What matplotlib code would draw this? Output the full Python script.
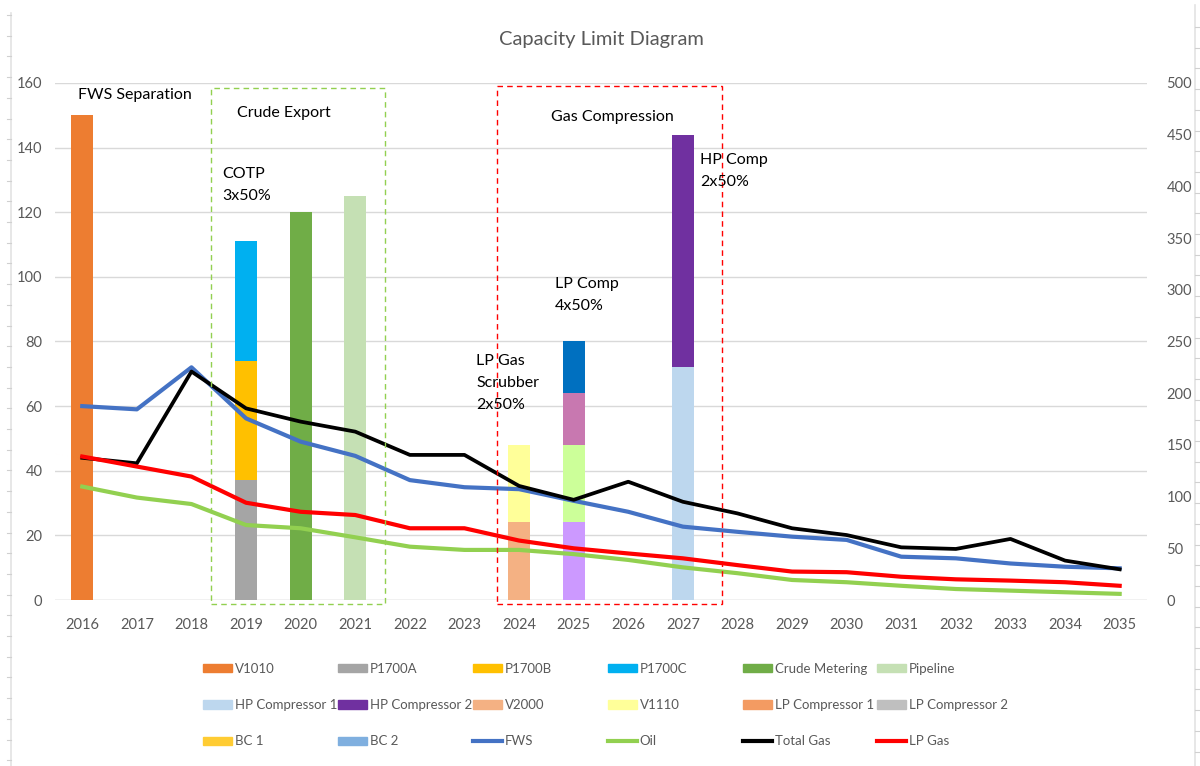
import matplotlib
matplotlib.use("Agg")
import matplotlib.pyplot as plt
from matplotlib.patches import Patch, Rectangle
from matplotlib.lines import Line2D
import numpy as np

plt.rcParams['font.family'] = ['Lato', 'DejaVu Sans']

years = [str(y) for y in range(2016, 2036)]

# bar series, value per year
v1010 = {"2016": 150}
p1700a = {"2019": 37}
p1700b = {"2019": 37}
p1700c = {"2019": 37}
crude_metering = {"2020": 120}
pipeline = {"2021": 125}
v2000 = {"2024": 24}
v1110 = {"2024": 24}
lp_comp1 = {"2025": 24}
lp_comp2 = {"2025": 24}
bc1 = {"2025": 16}
bc2 = {"2025": 16}
hp_comp1 = {"2027": 72}
hp_comp2 = {"2027": 72}

# line series
fws = [60, 59, 72, 56.2, 49, 44.6, 37.1, 34.9, 34.3, 30.7, 27.3, 22.7, 21.1, 19.6,
       18.6, 13.4, 12.9, 11.3, 10.3, 9.8]
oil = [35.1, 31.7, 29.7, 23.2, 22.2, 19.4, 16.5, 15.5, 15.5, 14.2, 12.4, 10.1, 8.3, 6.2,
       5.5, 4.4, 3.4, 2.9, 2.4, 1.9]
total_gas = [44, 42.3, 70.7, 59.3, 55.2, 52.1, 44.9, 44.9, 35.3, 31, 36.6, 30.4, 26.8, 22.2,
             20.1, 16.3, 15.8, 18.9, 12.2, 9.5]
lp_gas = [44.4, 41.3, 38.2, 30.1, 27.3, 26.3, 22.2, 22.2, 18.4, 16, 14.4, 12.9, 10.8, 8.8,
          8.6, 7.2, 6.4, 6.0, 5.5, 4.4]

# stacking order, with the colour shown on the bar
stacks = [
    (v1010, "#ED7D31"),
    (p1700a, "#A5A5A5"),
    (p1700b, "#FFC000"),
    (p1700c, "#00B0F0"),
    (crude_metering, "#70AD47"),
    (pipeline, "#C5E0B4"),
    (v2000, "#F4B183"),
    (v1110, "#FFFF99"),
    (lp_comp1, "#CC99FF"),
    (lp_comp2, "#CCFF99"),
    (bc1, "#C878B0"),
    (bc2, "#0070C0"),
    (hp_comp1, "#BDD7EE"),
    (hp_comp2, "#7030A0"),
]

grey = "#595959"

fig = plt.figure(figsize=(12, 7.66), dpi=100)

# sheet cell borders around the chart
fig.add_artist(Line2D([11 / 1200, 11 / 1200], [0, 1 - 13 / 766], color="#E3E3E3", lw=1.2))
fig.add_artist(Line2D([1195 / 1200, 1195 / 1200], [0, 1 - 5 / 766], color="#E3E3E3", lw=1.2))
for yy in np.arange(15, 766, 20.7):
    fig.add_artist(Line2D([7 / 1200, 11 / 1200], [1 - yy / 766] * 2, color="#D0D0D0", lw=0.8))
    fig.add_artist(Line2D([1195 / 1200, 1200 / 1200], [1 - (yy + 12) / 766] * 2, color="#D0D0D0", lw=0.8))

ax = fig.add_axes([0.0458, 0.2167, 0.91, 0.675])
x = np.arange(len(years))

bottoms = np.zeros(len(years))
for series, col in stacks:
    vals = np.array([series.get(y, 0) for y in years], dtype=float)
    ax.bar(x, vals, 0.4, bottom=bottoms, color=col, zorder=2)
    bottoms += vals

ax.plot(x, fws, color="#4472C4", lw=3, zorder=3)
ax.plot(x, oil, color="#92D050", lw=3, zorder=3)
ax.plot(x, total_gas, color="black", lw=2.7, zorder=4)
ax.plot(x, lp_gas, color="#FF0000", lw=3, zorder=5)

ax.set_xlim(-0.5, len(years) - 0.5)
ax.set_ylim(0, 160)
ax.set_yticks(range(0, 161, 20))
ax.set_xticks(x)
ax.set_xticklabels(years)
ax.grid(axis="y", color="#D9D9D9", lw=1, zorder=0)
ax.set_axisbelow(True)
for s in ax.spines.values():
    s.set_visible(False)
ax.axhline(0, color="#D9D9D9", lw=1, zorder=1)
ax.tick_params(length=0, colors=grey, labelsize=10.5)
ax.tick_params(axis="y", pad=9)
ax.tick_params(axis="x", pad=13)

ax2 = ax.twinx()
ax2.set_ylim(0, 500)
ax2.set_yticks(range(0, 501, 50))
for s in ax2.spines.values():
    s.set_visible(False)
ax2.tick_params(length=0, colors=grey, labelsize=10.5, pad=14)

# dashed boxes
ax.add_patch(Rectangle((2.36, -1.2), 3.19, 159.7, fill=False, ls=(0, (4, 3)),
                       ec="#92D050", lw=1, clip_on=False, zorder=6))
ax.add_patch(Rectangle((7.60, -1.2), 4.12, 160.3, fill=False, ls=(0, (4, 3)),
                       ec="#FF0000", lw=1, clip_on=False, zorder=6))

fs = 11.5
ax.text(-0.08, 156.3, "FWS Separation", fontsize=fs, va="center", zorder=7)
ax.text(2.84, 150.7, "Crude Export", fontsize=fs, va="center", zorder=7)
ax.text(2.56, 128.5, "COTP\n3x50%", fontsize=fs, va="center", linespacing=1.75, zorder=7)
ax.text(8.59, 149.5, "Gas Compression", fontsize=fs, va="center", zorder=7)
ax.text(11.32, 132.7, "HP Comp\n2x50%", fontsize=fs, va="center", linespacing=1.75, zorder=7)
ax.text(8.66, 94.5, "LP Comp\n4x50%", fontsize=fs, va="center", linespacing=1.75, zorder=7)
ax.text(7.22, 67.2, "LP Gas\nScrubber\n2x50%", fontsize=fs, va="center", linespacing=1.75, zorder=7)

fig.text(0.501, 0.948, "Capacity Limit Diagram", ha="center", va="center",
         fontsize=14.5, color=grey)

# legend: one column per legend so the column pitch stays even
row1 = [Patch(color="#ED7D31", label="V1010"), Patch(color="#A5A5A5", label="P1700A"),
        Patch(color="#FFC000", label="P1700B"), Patch(color="#00B0F0", label="P1700C"),
        Patch(color="#70AD47", label="Crude Metering"), Patch(color="#C5E0B4", label="Pipeline")]
row2 = [Patch(color="#BDD7EE", label="HP Compressor 1"), Patch(color="#7030A0", label="HP Compressor 2"),
        Patch(color="#F4B183", label="V2000"), Patch(color="#FFFF99", label="V1110"),
        Patch(color="#F39B62", label="LP Compressor 1"), Patch(color="#BFBFBF", label="LP Compressor 2")]
row3 = [Patch(color="#FFCC33", label="BC 1"), Patch(color="#7FAFDF", label="BC 2"),
        Line2D([], [], color="#4472C4", lw=3, label="FWS"),
        Line2D([], [], color="#92D050", lw=3, label="Oil"),
        Line2D([], [], color="black", lw=3, label="Total Gas"),
        Line2D([], [], color="#FF0000", lw=3, label="LP Gas")]
col_x = [203, 338, 473, 608, 743, 877]
for i in range(6):
    leg = fig.legend(handles=[row1[i], row2[i], row3[i]], loc="center left",
                     bbox_to_anchor=(col_x[i] / 1200, 1 - 705 / 766),
                     frameon=False, fontsize=9.5, handlelength=2.2, handleheight=0.6,
                     handletextpad=0.2, labelspacing=1.85, borderpad=0, borderaxespad=0)
    for t in leg.get_texts():
        t.set_color(grey)

fig.savefig("out.png", dpi=100)
